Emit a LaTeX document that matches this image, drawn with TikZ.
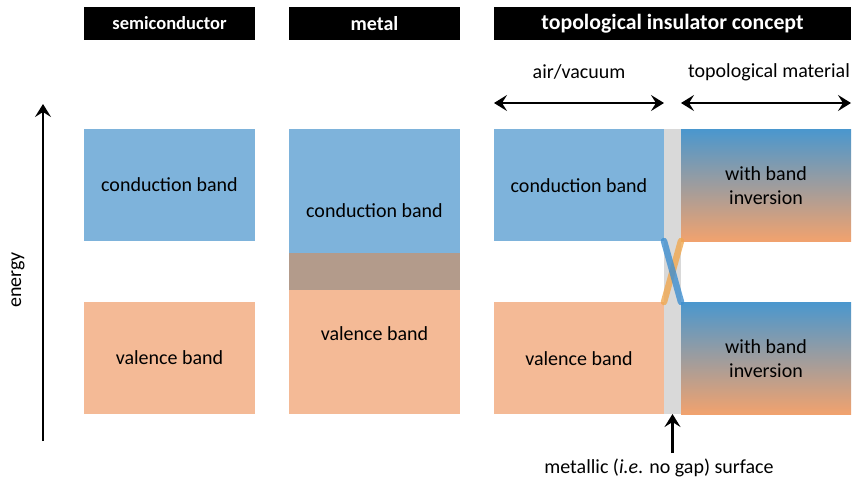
\documentclass[tikz,border=0pt]{standalone}
\usepackage{fontspec}
\setmainfont{Carlito}
\usetikzlibrary{arrows.meta}
\definecolor{cbblue}{HTML}{7EB3DB}
\definecolor{vborange}{HTML}{F4BA96}
\definecolor{overlap}{HTML}{B39B8B}
\definecolor{surfgray}{HTML}{D9D9D9}
\definecolor{invblue}{HTML}{4A97CE}
\definecolor{invorange}{HTML}{F1A26E}
\definecolor{xblue}{HTML}{3F8FD0}
\definecolor{xorange}{HTML}{F0A850}
\tikzset{
  band/.style={inner sep=0pt, outer sep=0pt},
  title/.style={fill=black, text=white, font=\fontsize{18.5}{22}\selectfont\bfseries, inner sep=0pt, minimum height=33},
  lbl/.style={font=\fontsize{20}{24}\selectfont, align=center},
  tip/.style={Stealth[length=13pt,width=16pt,inset=5pt]},
  arr/.style={line width=2.8pt, -{Stealth[length=13pt,width=16pt,inset=5pt]}},
  darr/.style={line width=2.8pt, {Stealth[length=13pt,width=16pt,inset=5pt]}-{Stealth[length=13pt,width=16pt,inset=5pt]}},
  cross/.style={line width=6.5pt, line cap=round, opacity=0.8}
}
\begin{document}
\begin{tikzpicture}[x=1pt,y=-1pt]
    \useasboundingbox (0,0) rectangle (854,483);

    % Titles
    \node[title, minimum width=171] (t-sc) at (169.5,23.5) {semiconductor};
    \node[title, minimum width=171, font=\fontsize{20}{24}\selectfont\bfseries] (t-me) at (374.5,23.5) {metal};
    \node[title, minimum width=357, font=\fontsize{21.8}{26}\selectfont\bfseries] (t-ti) at (672.5,23.5) {topological insulator concept};

    % Energy axis
    \coordinate (e-lo) at (43,441);
    \coordinate (e-hi) at (43,104);
    \draw[arr] (e-lo) -- (e-hi);
    \node[lbl, rotate=90] (energy) at (18,280) {energy};

    % Semiconductor
    \node[band, fill=cbblue, minimum width=171, minimum height=112] (sc-cb) at (169.5,185) {};
    \node[band, fill=vborange, minimum width=171, minimum height=112] (sc-vb) at (169.5,358) {};
    \node[lbl] (sc-cbt) at (sc-cb) {conduction band};
    \node[lbl] (sc-vbt) at (sc-vb) {valence band};

    % Metal
    \node[band, fill=cbblue, minimum width=171, minimum height=124] (me-cb) at (374.5,191) {};
    \node[band, fill=overlap, minimum width=171, minimum height=37] (me-ov) at (374.5,271.5) {};
    \node[band, fill=vborange, minimum width=171, minimum height=124] (me-vb) at (374.5,352) {};
    \node[lbl] (me-cbt) at (374.5,211) {conduction band};
    \node[lbl] (me-vbt) at (374.5,334) {valence band};

    % Topological insulator
    \node[band, fill=cbblue, minimum width=170, minimum height=112] (ti-cb) at (579,185) {};
    \node[band, fill=vborange, minimum width=170, minimum height=112] (ti-vb) at (579,358) {};
    \node[band, fill=surfgray, minimum width=17, minimum height=285] (ti-surf) at (672.5,271.5) {};
    \node[band, top color=invblue, bottom color=invorange, minimum width=170, minimum height=112] (ti-up) at (766,185) {};
    \node[band, top color=invblue, bottom color=invorange, minimum width=170, minimum height=112] (ti-dn) at (766,358) {};
    \node[lbl] (ti-cbt) at (579,186) {conduction band};
    \node[lbl] (ti-vbt) at (579,359) {valence band};
    \node[lbl] (ti-upt) at (766,186) {with band\\inversion};
    \node[lbl] (ti-dnt) at (766,359) {with band\\inversion};

    % Surface states
    \draw[cross, xorange] (ti-surf.west |- ti-vb.north) -- (ti-surf.east |- ti-up.south);
    \draw[cross, xblue] (ti-surf.west |- ti-cb.south) -- (ti-surf.east |- ti-dn.north);

    % Regions
    \node[lbl] (air) at (579,72) {air/vacuum};
    \node[lbl] (topo) at (769,72) {topological material};
    \coordinate (air-l) at (494,103);
    \coordinate (air-r) at (664,103);
    \coordinate (topo-l) at (681,103);
    \coordinate (topo-r) at (851,103);
    \draw[darr] (air-l) -- (air-r);
    \draw[darr] (topo-l) -- (topo-r);

    % Surface label
    \node[lbl] (surf) at (659,468) {metallic (\textit{i.e}. no gap) surface};
    \coordinate (surf-arr) at (672.5,453);
    \draw[arr] (surf-arr) -- (ti-surf.south);
\end{tikzpicture}
\end{document}
